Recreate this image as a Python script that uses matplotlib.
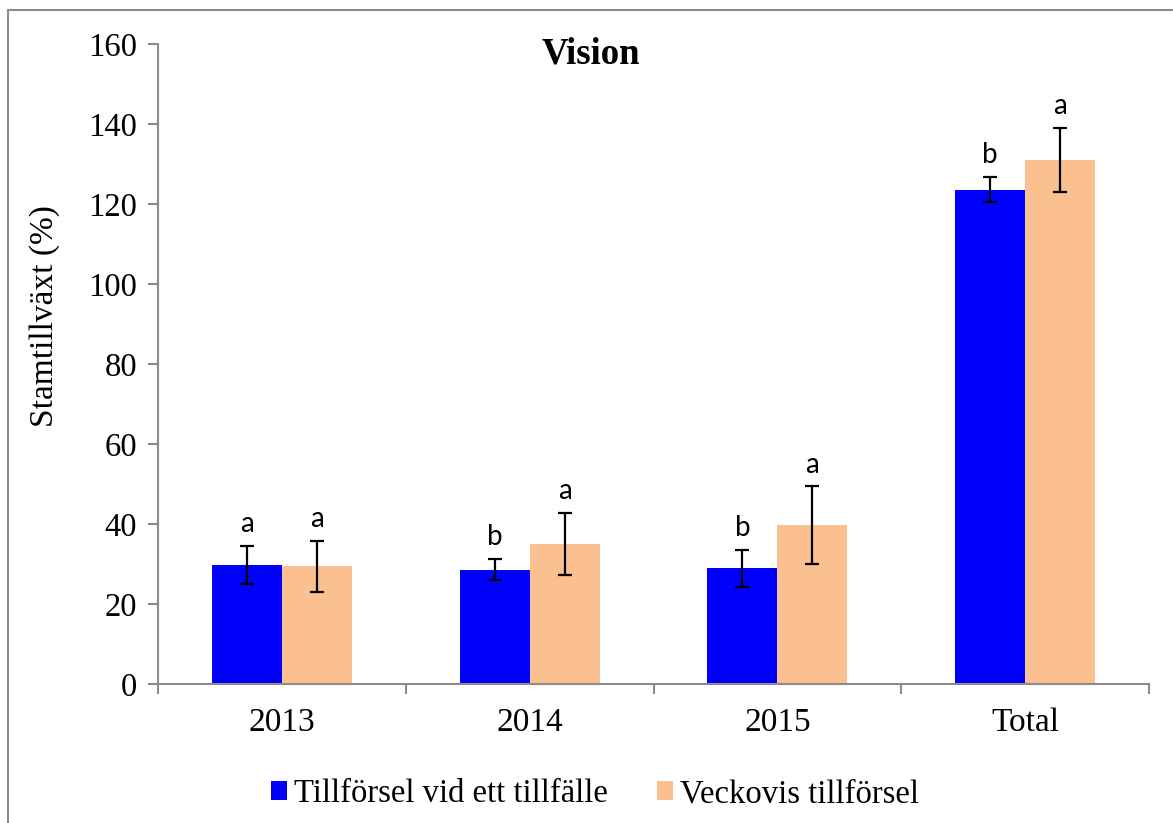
#!/usr/bin/env python3

import numpy as np
from matplotlib import pyplot as plt
from matplotlib.patches import Rectangle

# data
years = ['2013', '2014', '2015', 'Total']
once = [29.8, 28.6, 28.9, 123.6]
once_err = [4.8, 2.6, 4.6, 3.2]
once_sig = ['a', 'b', 'b', 'b']
weekly = [29.4, 35.0, 39.7, 131.0]
weekly_err = [6.4, 7.7, 9.7, 8.0]
weekly_sig = ['a', 'a', 'a', 'a']
series_names = ['Tillförsel vid ett tillfälle', 'Veckovis tillförsel']

BLUE = '#0000FF'
PEACH = '#FAC090'
GREY = '#8C8C8C'

plt.rcParams['font.family'] = ['Liberation Serif', 'DejaVu Serif']

fig = plt.figure(figsize=(11.73, 8.23), dpi=100)
ax = fig.add_axes([158 / 1173, 1 - 684 / 823, (1149 - 158) / 1173, (684 - 44) / 823])

x = np.arange(len(years))
w = 0.283
b1 = ax.bar(x - w / 2, once, w, color=BLUE, label=series_names[0])
b2 = ax.bar(x + w / 2, weekly, w, color=PEACH, label=series_names[1])
ax.errorbar(x - w / 2, once, yerr=once_err, fmt='none', ecolor='black',
            elinewidth=1.6, capsize=5, capthick=1.6)
ax.errorbar(x + w / 2, weekly, yerr=weekly_err, fmt='none', ecolor='black',
            elinewidth=1.6, capsize=5, capthick=1.6)

for xs, vals, errs, sigs in [(x - w / 2, once, once_err, once_sig),
                             (x + w / 2, weekly, weekly_err, weekly_sig)]:
    for xi, v, e, s in zip(xs, vals, errs, sigs):
        ax.annotate(s, (xi, v + e), xytext=(0, 10), textcoords='offset points',
                    ha='center', va='baseline', fontsize=20, family='Lato')

ax.set_xlim(-0.5, len(years) - 0.5)
ax.set_ylim(0, 160)
ax.set_yticks(range(0, 161, 20))
ax.set_xticks(np.arange(-0.5, len(years)), labels=[])
ax.set_xticks(x, labels=years, minor=True)
ax.tick_params(axis='x', which='minor', length=0, pad=17, labelsize=24)
ax.tick_params(axis='x', which='major', length=7, width=1.5, color=GREY)
ax.tick_params(axis='y', length=7, width=1.5, color=GREY, labelsize=23.5, pad=8)

for side in ['top', 'right']:
    ax.spines[side].set_visible(False)
for side in ['left', 'bottom']:
    ax.spines[side].set_color(GREY)
    ax.spines[side].set_linewidth(1.5)

ax.set_ylabel('Stamtillväxt (%)', fontsize=24, va='center')
ax.yaxis.set_label_coords(-0.114, 0.575)
fig.text(591 / 1173, 1 - 54 / 823, 'Vision', fontsize=26.5, fontweight='bold',
         ha='center', va='center')

fig.legend(handles=[b1, b2], loc='center', bbox_to_anchor=(595 / 1173, 1 - 794 / 823),
           ncol=2, frameon=False, fontsize=23.5, handlelength=0.5, handleheight=0.5,
           handletextpad=0.22, columnspacing=1.5)

# outer chart border, runs off the right and bottom edge like the source
fig.patches.append(Rectangle((8 / 1173, -0.1), 1.2, 1.1 - 10 / 823,
                             transform=fig.transFigure, fill=False,
                             edgecolor=GREY, linewidth=1.5))

plt.savefig('out.png', dpi=100)
